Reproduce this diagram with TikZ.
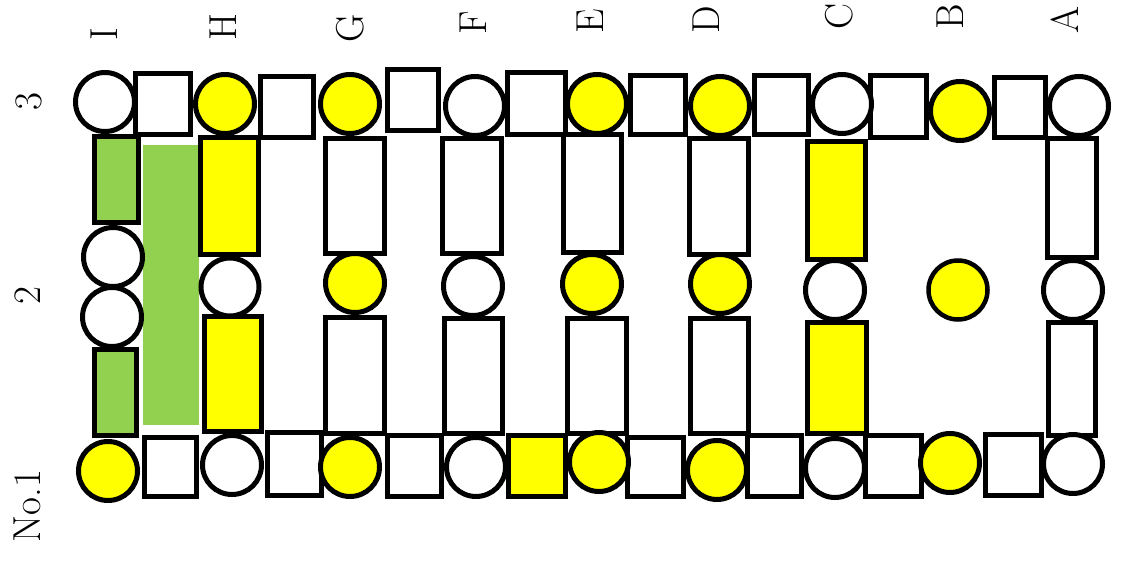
\documentclass[tikz,border=0pt]{standalone}
\usepackage{tikz}
\definecolor{leafgreen}{RGB}{146,208,80}
\definecolor{lemon}{RGB}{255,255,0}
\tikzset{
  tile/.style={draw=black, line width=5pt, fill=white},
  bead/.style={draw=black, line width=5pt, fill=white},
  tag/.style={rotate=90, anchor=base, inner sep=0pt, font=\fontsize{39}{47}\selectfont}
}
\begin{document}
\begin{tikzpicture}[x=1pt,y=-1pt]
\useasboundingbox (0,0) rectangle (1122,561);
% row 3 squares
\draw[tile] (135,74) rectangle (190,135);
\draw[tile] (260,77) rectangle (313,138);
\draw[tile] (387,70) rectangle (438,131);
\draw[tile] (507,73) rectangle (565,135);
\draw[tile] (630,76) rectangle (685,135);
\draw[tile] (754,76) rectangle (808,135);
\draw[tile] (870,76) rectangle (926,138);
\draw[tile] (994,78) rectangle (1045,138);
% row 1 squares
\draw[tile] (144,437) rectangle (196,496);
\draw[tile] (267,432) rectangle (321,495);
\draw[tile] (387,435) rectangle (441,496);
\draw[tile,fill=lemon] (508,435) rectangle (565,496);
\draw[tile] (627,437) rectangle (683,496);
\draw[tile] (747,435) rectangle (801,496);
\draw[tile] (865,435) rectangle (921,496);
\draw[tile] (985,434) rectangle (1041,495);
% columns
\fill[fill=leafgreen] (143,145) rectangle (199,425);
\draw[tile,fill=leafgreen] (94,137) rectangle (138,223);
\draw[tile,fill=leafgreen] (94,350) rectangle (136,435);
\draw[tile,fill=lemon] (200,138) rectangle (258,255);
\draw[tile,fill=lemon] (204,317) rectangle (261,431);
\draw[tile] (325,139) rectangle (384,254);
\draw[tile] (325,318) rectangle (384,433);
\draw[tile] (442,139) rectangle (501,254);
\draw[tile] (444,319) rectangle (502,433);
\draw[tile] (563,135) rectangle (621,253);
\draw[tile] (567,319) rectangle (626,433);
\draw[tile] (689,139) rectangle (748,255);
\draw[tile] (690,319) rectangle (748,433);
\draw[tile,fill=lemon] (807,142) rectangle (865,260);
\draw[tile,fill=lemon] (807,323) rectangle (866,433);
\draw[tile] (1047,139) rectangle (1096,258);
\draw[tile] (1048,323) rectangle (1095,435);
% row 3 beads
\draw[bead] (105,102) circle (29.5);
\draw[bead,fill=lemon] (225,104) circle (29.5);
\draw[bead,fill=lemon] (350,104) circle (29.5);
\draw[bead] (475,106) circle (29.5);
\draw[bead,fill=lemon] (597,104) circle (29.5);
\draw[bead,fill=lemon] (720,106) circle (29.5);
\draw[bead] (842,104) circle (29.5);
\draw[bead,fill=lemon] (960,111) circle (29.5);
\draw[bead] (1079,106) circle (29.5);
% row 2 beads
\draw[bead] (113,257) circle (29.5);
\draw[bead] (112,317) circle (29.5);
\draw[bead] (230,287) circle (29);
\draw[bead,fill=lemon] (355,283) circle (29.5);
\draw[bead] (473,286) circle (29.5);
\draw[bead,fill=lemon] (592,284) circle (29.5);
\draw[bead,fill=lemon] (720,284) circle (29.5);
\draw[bead] (835,290) circle (29.5);
\draw[bead,fill=lemon,line width=4.5pt] (958,290) circle (29.5);
\draw[bead] (1073,290) circle (29.5);
% row 1 beads
\draw[bead,fill=lemon] (108,471) circle (29.5);
\draw[bead] (232,465) circle (29.5);
\draw[bead,fill=lemon] (350,467) circle (29.5);
\draw[bead] (476,467) circle (29.5);
\draw[bead,fill=lemon] (599,462) circle (29.5);
\draw[bead,fill=lemon] (717,470) circle (29.5);
\draw[bead] (835,468) circle (29.5);
\draw[bead,fill=lemon] (950,463) circle (29.5);
\draw[bead] (1073,464) circle (29.5);
% labels
\node[tag] (colI) at (117,34) {I};
\node[tag] (colH) at (236,27) {H};
\node[tag] (colG) at (363,28) {G};
\node[tag] (colF) at (486,23) {F};
\node[tag] (colE) at (603,21) {E};
\node[tag] (colD) at (719,20) {D};
\node[tag] (colC) at (852,16) {C};
\node[tag] (colB) at (963,17) {B};
\node[tag] (colA) at (1078,20) {A};
\node[tag] (row3) at (41,102) {3};
\node[tag] (row2) at (40,296) {2};
\node[tag] (row1) at (40,506) {No.1};
\end{tikzpicture}
\end{document}
